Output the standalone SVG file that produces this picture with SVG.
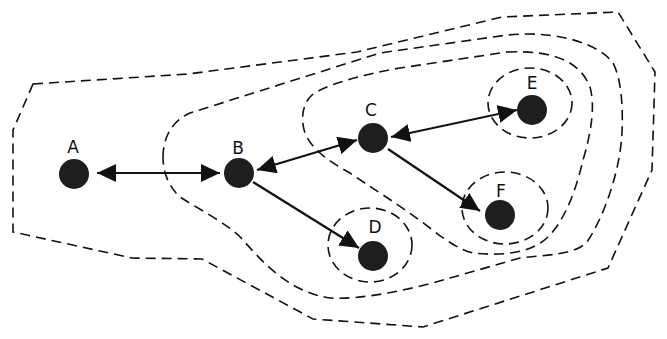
<svg xmlns="http://www.w3.org/2000/svg" width="667" height="339" viewBox="0 0 667 339">
<style>
.bg{fill:#ffffff}
.contour{fill:none;stroke:#111;stroke-width:1.6;stroke-dasharray:10 6}
.node{fill:#1e1e1e}
.edge{stroke:#111;stroke-width:2.2;fill:none}
.lbl{font-family:"DejaVu Sans",sans-serif;font-size:17px;fill:#111;text-anchor:middle}
</style>
<defs>
<marker id="ah" markerUnits="userSpaceOnUse" markerWidth="20" markerHeight="18" refX="19" refY="9" orient="auto-start-reverse">
<path d="M0,0 L19,9 L0,18 z" fill="#111"/>
</marker>
</defs>
<rect class="bg" x="0" y="0" width="667" height="339"/>
<g id="contours">
<path id="contour-outer" class="contour" d="M33,84 L188,74 L357,52 L502,17 L618,12 L655,72 L652,170 L608,268 L423,327 L313,319 L202,259 L132,258 L13,232 L13,130 Z"/>
<path id="contour-bcdef" class="contour" d="M163,157 C163,140 170,122 190,113 L380,53 L507,35 C560,30 600,45 613,63 C622,80 623,110 622,133 C620,170 605,215 587,242 C575,255 545,255 520,258 L450,278 C410,290 360,300 330,298 C290,292 265,265 243,240 C230,225 200,210 180,197 C167,185 163,170 163,157 Z"/>
<path id="contour-cef" class="contour" d="M507,52 C555,50 580,62 590,87 C595,105 592,130 583,160 C576,190 565,220 548,237 C530,254 500,256 473,253 C460,250 445,240 430,228 C400,205 370,187 350,173 C330,162 312,150 305,133 C300,118 303,103 312,95 C325,85 360,75 400,68 Z"/>
<ellipse id="contour-e" class="contour" cx="530" cy="103" rx="42" ry="35"/>
<ellipse id="contour-f" class="contour" cx="505" cy="208" rx="43" ry="36"/>
<ellipse id="contour-d" class="contour" cx="370" cy="245" rx="42" ry="37"/>
</g>
<g id="connectors">
<line class="edge" x1="97" y1="173" x2="220" y2="173" marker-start="url(#ah)" marker-end="url(#ah)"/>
<line class="edge" x1="257" y1="170" x2="357" y2="140" marker-start="url(#ah)" marker-end="url(#ah)"/>
<line class="edge" x1="391" y1="137" x2="517" y2="110" marker-start="url(#ah)" marker-end="url(#ah)"/>
<line class="edge" x1="253" y1="182" x2="359" y2="248" marker-end="url(#ah)"/>
<line class="edge" x1="388" y1="149" x2="480" y2="211" marker-end="url(#ah)"/>
</g>
<g id="node-A"><circle class="node" cx="74" cy="174" r="15"/><text class="lbl" x="73" y="153">A</text></g>
<g id="node-B"><circle class="node" cx="239" cy="173" r="15"/><text class="lbl" x="238" y="154">B</text></g>
<g id="node-C"><circle class="node" cx="373" cy="138" r="15"/><text class="lbl" x="371" y="116">C</text></g>
<g id="node-D"><circle class="node" cx="373" cy="256" r="15"/><text class="lbl" x="375" y="233">D</text></g>
<g id="node-E"><circle class="node" cx="532" cy="110" r="15"/><text class="lbl" x="532" y="89">E</text></g>
<g id="node-F"><circle class="node" cx="500" cy="215" r="15"/><text class="lbl" x="501" y="197">F</text></g>
</svg>
